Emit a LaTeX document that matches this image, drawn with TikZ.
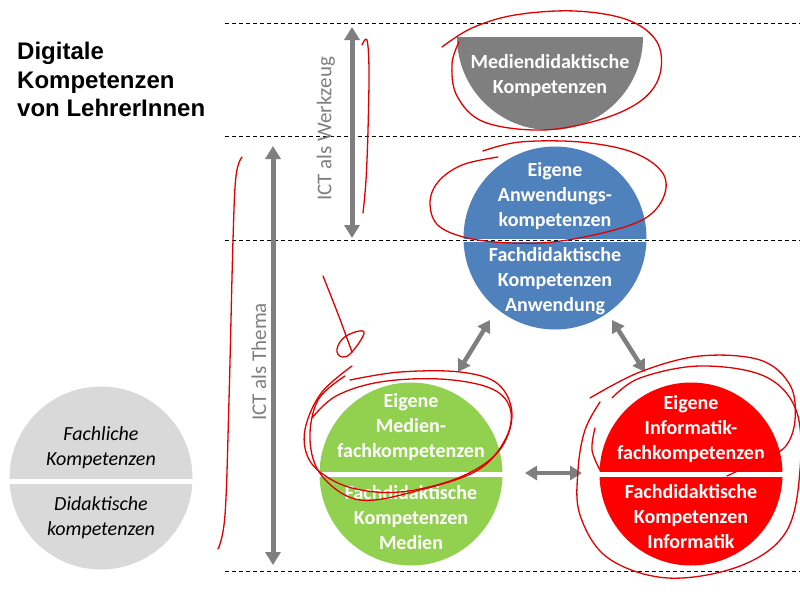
\documentclass[tikz,border=0pt]{standalone}
\usepackage{fontspec}
\setmainfont{Carlito}
\newfontfamily\arialfont{Liberation Sans}
\usetikzlibrary{arrows.meta}
\definecolor{cgray}{HTML}{7F7F7F}
\definecolor{cblue}{HTML}{4F81BD}
\definecolor{cgreen}{HTML}{92D050}
\definecolor{cred}{HTML}{FF0000}
\definecolor{clight}{HTML}{D9D9D9}
\definecolor{cscrib}{HTML}{E00000}
\begin{document}
\begin{tikzpicture}[x=1pt,y=-1pt,
  disk/.style={circle, minimum size=183pt, inner sep=0pt, draw=none},
  ctext/.style={text=white, font=\bfseries\fontsize{20}{25}\selectfont, align=center, inner sep=0pt},
  gtext/.style={text=black, font=\itshape\fontsize{20}{25}\selectfont, align=center, inner sep=0pt},
  band/.style={fill=white},
  dline/.style={dash pattern=on 4pt off 3pt, line width=0.9pt},
  bigarrow/.style={draw=cgray, line width=5pt, {Triangle[width=15pt,length=13pt]}-{Triangle[width=15pt,length=13pt]}},
  smallarrow/.style={draw=cgray, line width=4.5pt, {Triangle[width=14pt,length=12pt]}-{Triangle[width=14pt,length=12pt]}},
  vlabel/.style={text=cgray, font=\fontsize{21}{24}\selectfont, rotate=90, inner sep=0pt},
  scrib/.style={draw=cscrib, line width=1.3pt, line cap=round, line join=round}
]
\useasboundingbox (0,0) rectangle (800,600);
\fill[white] (0,0) rectangle (800,600);

% title
\node[anchor=north west, align=left, inner sep=0pt, font=\arialfont\bfseries\fontsize{24}{28.5}\selectfont] (title) at (17,42) {Digitale\\Kompetenzen\\von LehrerInnen};

% grey half disk
\fill[cgray] (457,37) -- (643,37) arc[start angle=0, end angle=180, radius=93] -- cycle;
\node[ctext] (medd) at (550,76) {Mediendidaktische\\Kompetenzen};

% circles
\node[disk, fill=cblue] (blue) at (555,238) {};
\node[disk, fill=cgreen] (green) at (411,474) {};
\node[disk, fill=cred] (red) at (691,474) {};
\node[disk, fill=clight] (grey) at (101,478) {};

% white dividers
\fill[band] (460,238.5) rectangle (650,241.5);
\fill[band] (315,472) rectangle (507,477);
\fill[band] (595,471.5) rectangle (787,476.5);
\fill[band] (5,478.5) rectangle (197,483.5);

% dashed lines
\coordinate (l1a) at (225,23);  \coordinate (l1b) at (800,23);
\coordinate (l2a) at (225,136); \coordinate (l2b) at (800,136);
\coordinate (l3a) at (225,240); \coordinate (l3b) at (800,240);
\coordinate (l4a) at (225,571); \coordinate (l4b) at (800,571);
\draw[dline] (l1a) -- (l1b);
\draw[dline] (l2a) -- (l2b);
\draw[dline] (l3a) -- (l3b);
\draw[dline] (l4a) -- (l4b);

% circle texts
\node[ctext] (blueT) at (555,196) {Eigene\\Anwendungs-\\kompetenzen};
\node[ctext] (blueB) at (555,281) {Fachdidaktische\\Kompetenzen\\Anwendung};
\node[ctext] (greenT) at (411,427) {Eigene\\Medien-\\fachkompetenzen};
\node[ctext] (greenB) at (411,518) {Fachdidaktische\\Kompetenzen\\Medien};
\node[ctext] (redT) at (691,429) {Eigene\\Informatik-\\fachkompetenzen};
\node[ctext] (redB) at (691,517) {Fachdidaktische\\Kompetenzen\\Informatik};
\node[gtext] (greyT) at (101,448) {Fachliche\\Kompetenzen};
\node[gtext] (greyB) at (101,518) {Didaktische\\kompetenzen};

% vertical arrows
\coordinate (wt) at (352,27);  \coordinate (wb) at (352,238);
\coordinate (tt) at (273,146); \coordinate (tb) at (273,565);
\draw[bigarrow] (wt) -- (wb);
\draw[bigarrow] (tt) -- (tb);
\node[vlabel] (wlab) at (326,129) {ICT als Werkzeug};
\node[vlabel] (tlab) at (259,362) {ICT als Thema};

% arrows between circles
\coordinate (bg1) at (490,320); \coordinate (bg2) at (458,372);
\coordinate (br1) at (612,320); \coordinate (br2) at (645,372);
\coordinate (gr1) at (525,473); \coordinate (gr2) at (582,473);
\draw[smallarrow] (bg1) -- (bg2);
\draw[smallarrow] (br1) -- (br2);
\draw[smallarrow] (gr1) -- (gr2);

% red freehand annotations
\draw[scrib] plot[smooth, tension=0.6] coordinates {(442,47) (472,28) (515,15) (575,11) (628,20) (657,42) (660,74) (642,100) (602,119) (543,130) (484,122) (457,96) (452,64) (459,42)};
\draw[scrib] plot[smooth, tension=0.6] coordinates {(483,151) (520,142) (580,142) (632,152) (662,172) (664,196) (644,219) (598,234) (540,243) (478,240) (440,227) (430,204) (438,182) (462,165) (498,157)};
\draw[scrib] plot[smooth, tension=0.6] coordinates {(362,45) (367,40) (369,70) (368,130) (366,180) (363,213)};
\draw[scrib] plot[smooth, tension=0.6] coordinates {(242,157) (236,176) (233,240) (229,400) (225,515) (218,549)};
\draw[scrib] plot[smooth, tension=0.5] coordinates {(323,276) (338,314) (352,352)};
\draw[scrib] plot[smooth cycle, tension=0.7] coordinates {(352,352) (364,332) (346,336) (337,349) (342,357)};
\draw[scrib] plot[smooth, tension=0.6] coordinates {(352,366) (322,392) (306,425) (306,452) (320,472) (352,488) (400,492) (458,478) (498,452) (512,415) (498,384) (460,372) (400,372) (350,380)};
\draw[scrib] plot[smooth, tension=0.6] coordinates {(345,376) (318,400) (310,440) (322,476) (360,500) (420,490) (478,470) (506,438) (510,408) (490,388) (440,379) (380,382) (336,396) (312,418)};
\draw[scrib] plot[smooth, tension=0.6] coordinates {(590,398) (640,372) (700,356) (760,360) (790,385) (795,420) (785,447) (760,460) (727,476)};
\draw[scrib] plot[smooth, tension=0.6] coordinates {(600,402) (585,430) (578,470) (580,515) (608,558) (668,578) (740,566) (786,532) (800,470) (796,410) (764,376) (700,366) (640,378) (612,398)};
\draw[scrib] plot[smooth, tension=0.6] coordinates {(595,428) (592,450) (600,470)};
\end{tikzpicture}
\end{document}
